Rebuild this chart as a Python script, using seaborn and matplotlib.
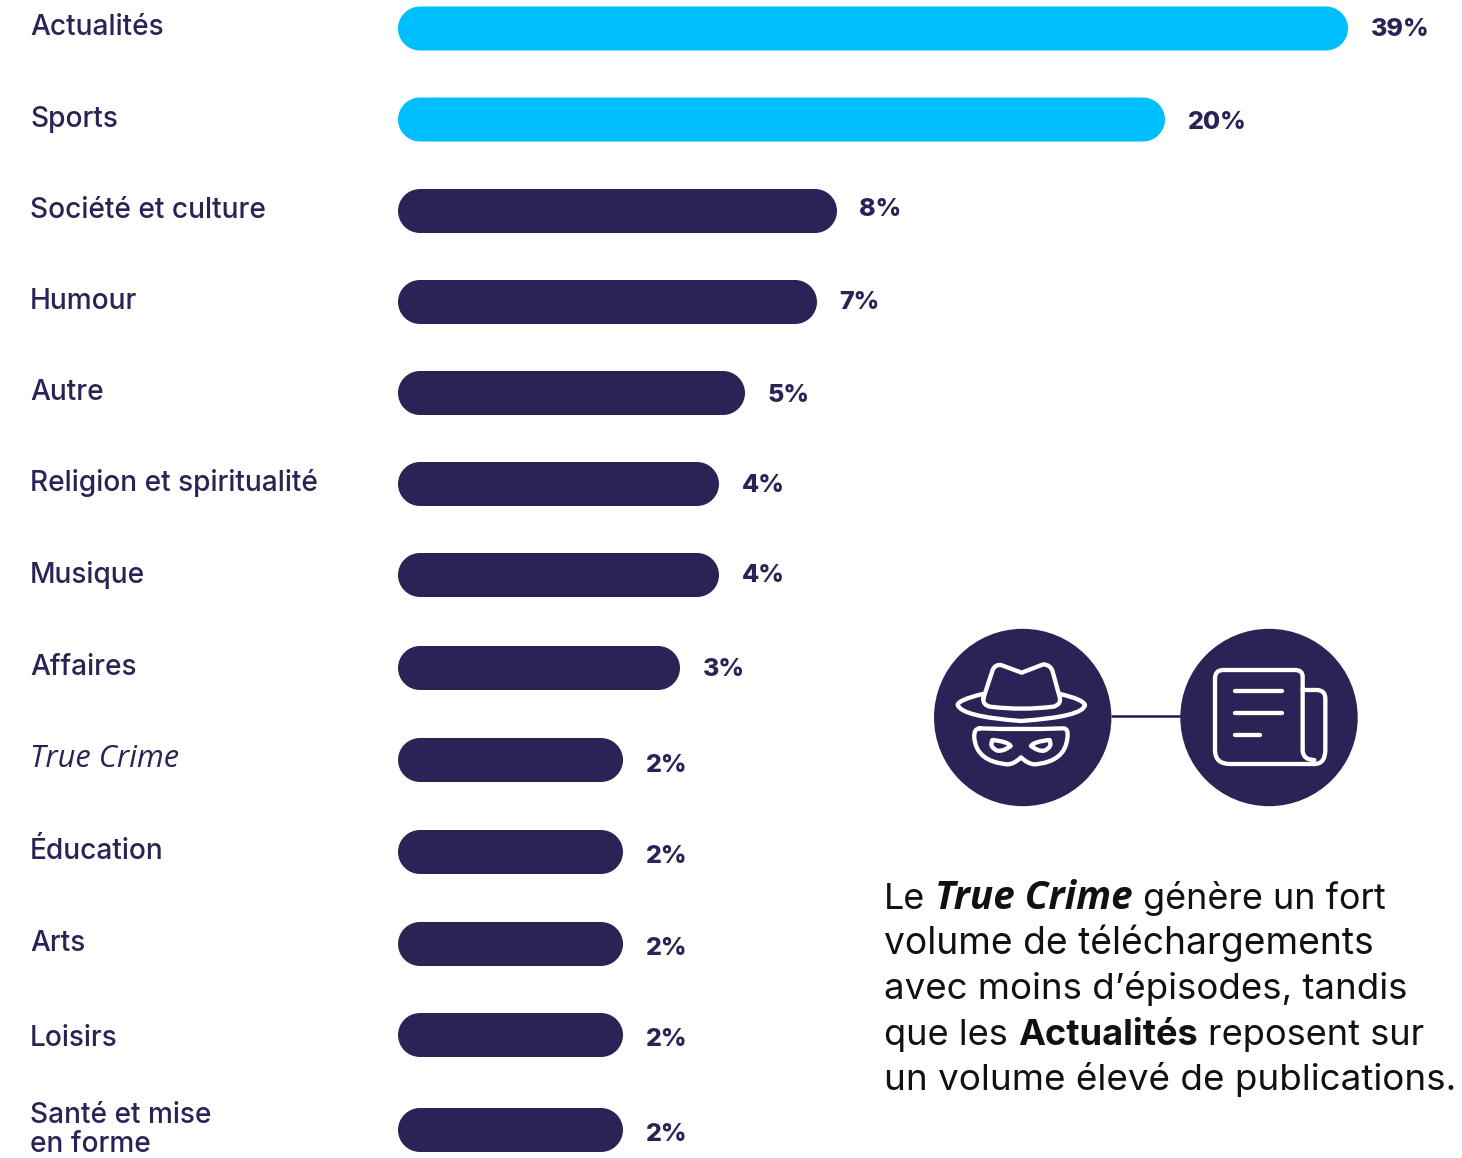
import matplotlib
matplotlib.use("Agg")
import matplotlib.pyplot as plt
import seaborn as sns
import pandas as pd
from matplotlib.patches import Circle, PathPatch
from matplotlib.path import Path

categories = ["Actualités", "Sports", "Société et culture", "Humour", "Autre",
              "Religion et spiritualité", "Musique", "Affaires", "True Crime",
              "Éducation", "Arts", "Loisirs", "Santé et mise\nen forme"]
value_labels = ["39%", "20%", "8%", "7%", "5%", "4%", "4%", "3%", "2%", "2%", "2%", "2%", "2%"]
bar_lengths = [950, 767, 439, 419, 347, 321, 321, 282, 225, 225, 225, 225, 225]
groups = ["top", "top"] + ["rest"] * 11

# layout (pixels)
row_centers = [28.5, 119.5, 211, 302, 393, 484, 575, 668, 760, 852, 944, 1035, 1130]
value_baselines = [36, 129, 216, 309, 402, 492, 582, 676, 772, 863, 955, 1046, 1141]
label_baselines = [35, 127, 218, 309, 400, 491, 583, 675, 767, 859, 951, 1046, 1151.5]

DARK = "#2A2356"
CYAN = "#00BFFF"
LABEL_FONT = "Inter"

sns.set_theme(style="white")
plt.rcParams["font.family"] = [LABEL_FONT, "Open Sans", "DejaVu Sans"]
fig = plt.figure(figsize=(14.62, 11.58), dpi=100)
ax = fig.add_axes([0, 0, 1, 1])

df = pd.DataFrame({"row": row_centers, "length": bar_lengths, "group": groups})
sns.barplot(data=df, x="length", y="row", hue="group", orient="h", native_scale=True,
            palette={"top": CYAN, "rest": DARK}, dodge=False, width=44 / 91, legend=False,
            errorbar=None, saturation=1, ax=ax)
ax.set_xlim(-398, 1064)
ax.set_ylim(1158, 0)
ax.axis("off")

KAPPA = 0.5523

def pill(x, y, w, h):
    r = h / 2
    k = r * (1 - KAPPA)
    x1, y1 = x + w, y + h
    verts = [(x + r, y), (x1 - r, y),
             (x1 - k, y), (x1, y + k), (x1, y + r),
             (x1, y1 - k), (x1 - k, y1), (x1 - r, y1),
             (x + r, y1),
             (x + k, y1), (x, y1 - k), (x, y + r),
             (x, y + k), (x + k, y), (x + r, y),
             (x + r, y)]
    C4 = Path.CURVE4
    codes = [Path.MOVETO, Path.LINETO, C4, C4, C4, C4, C4, C4, Path.LINETO, C4, C4, C4, C4, C4, C4,
             Path.CLOSEPOLY]
    return Path(verts, codes)

# rounded bars built from seaborn's bar geometry
for bar in list(ax.patches):
    x, y, w, h = bar.get_x(), bar.get_y(), bar.get_width(), bar.get_height()
    col = bar.get_facecolor()
    bar.remove()
    if w <= 0:
        continue
    ax.add_patch(PathPatch(pill(x, y, w, h), fc=col, ec="none", zorder=3))

# category and value labels
for i, (cat, lab) in enumerate(zip(categories, value_labels)):
    ital = cat == "True Crime"
    ax.text(-368, label_baselines[i], cat, fontsize=22.2 if ital else 20.2, fontweight="medium", color=DARK,
            va="baseline", ha="left", linespacing=1.05,
            style="italic" if ital else "normal",
            family="Open Sans" if ital else LABEL_FONT)
    ax.text(bar_lengths[i] + 22.5, value_baselines[i], lab, fontsize=18, fontweight="heavy",
            color=DARK, va="baseline", ha="left")

# icons, in reference zoom-crop coordinates
def Z(x, y):
    return (920 - 398 + x / 3, 620 + y / 3)

def draw(verts, codes=None):
    pts = [Z(*v) for v in verts]
    if codes is None:
        codes = [Path.MOVETO] + [Path.LINETO] * (len(pts) - 1)
    ax.add_patch(PathPatch(Path(pts, codes), fc="none", ec="white", lw=3.1, zorder=6,
                           capstyle="round", joinstyle="round"))

M, L, C = Path.MOVETO, Path.LINETO, Path.CURVE3
ax.plot([1112 - 398, 1181 - 398], [716, 716], color="#2A1066", lw=1.8, zorder=4)
for cx in (1022.7 - 398, 1269 - 398):
    ax.add_patch(Circle((cx, 717.5), 88.7, fc=DARK, ec="none", zorder=5))

# hat crown
draw([(190, 235), (218, 150), (225, 133), (243, 135), (305, 158), (370, 133), (393, 135), (398, 155),
      (420, 235), (422, 255), (400, 260), (305, 272), (210, 260), (188, 255), (190, 235)],
     [M, L, C, C, L, L, C, C, L, C, C, C, C, C, C])
# hat brim
draw([(188, 222), (113, 240), (113, 255), (125, 290), (303, 303), (490, 290), (495, 255), (490, 238), (420, 222)],
     [M, C, C, C, C, C, C, C, C])
# mask
draw([(180, 325), (303, 330), (430, 325), (447, 325), (442, 355), (435, 425), (345, 433), (325, 433), (303, 412),
      (282, 433), (262, 433), (170, 425), (163, 355), (160, 325), (180, 325)],
     [M, C, C, C, C, C, C, C, L, C, C, C, C, C, C])
# eyes
draw([(218, 360), (265, 365), (272, 378), (250, 395), (232, 392), (205, 380), (218, 360)], [M, C, C, C, C, C, C])
draw([(388, 360), (340, 365), (333, 378), (355, 395), (373, 392), (400, 380), (388, 360)], [M, C, C, C, C, C, C])
# newspaper
draw([(1183, 420), (1148, 420), (1148, 390), (1148, 170), (1148, 150), (1125, 150), (910, 150), (885, 150), (885, 175),
      (885, 390), (885, 432), (930, 432), (1183, 432)],
     [M, C, C, L, C, C, L, C, C, L, C, C, L])
draw([(1148, 210), (1190, 210), (1216, 210), (1216, 236), (1216, 390), (1216, 432), (1183, 432)],
     [M, L, C, C, L, C, C])
draw([(945, 214), (1085, 214)])
draw([(945, 280), (1085, 280)])
draw([(945, 345), (1020, 345)])

# annotation paragraph, mixed-style runs
INK = "#111111"
ISIZE = 27.8
paragraph = [
    (909, 25.9, [("Le ", "normal", "normal"), ("True Crime", "bold", "italic"), (" génère un fort", "normal", "normal")]),
    (954, 26.8, [("volume de téléchargements", "normal", "normal")]),
    (999, 26.4, [("avec moins d’épisodes, tandis", "normal", "normal")]),
    (1045, 26.1, [("que les ", "normal", "normal"), ("Actualités", "bold", "normal"), (" reposent sur", "normal", "normal")]),
    (1090, 26.5, [("un volume élevé de publications.", "normal", "normal")]),
]
renderer = fig.canvas.get_renderer()

def font_of(style):
    return "Open Sans" if style == "italic" else LABEL_FONT

def width(s, size, weight, style):
    t = ax.text(0, 0, s, fontsize=size, fontweight=weight, style=style, family=font_of(style))
    w = t.get_window_extent(renderer).width
    t.remove()
    return w

for base, line_size, runs in paragraph:
    x = 884 - 398
    for s, weight, style in runs:
        size = ISIZE if style == "italic" else line_size
        space = width("a b", size, weight, style) - width("ab", size, weight, style)
        core = s.strip()
        if s.startswith(" "):
            x += space
        ax.text(x, base, core, fontsize=size, fontweight=weight, style=style, family=font_of(style),
                color=INK, va="baseline", ha="left")
        x += width(core, size, weight, style)
        if s.endswith(" "):
            x += space

fig.savefig("out.png", dpi=100, facecolor="white")
